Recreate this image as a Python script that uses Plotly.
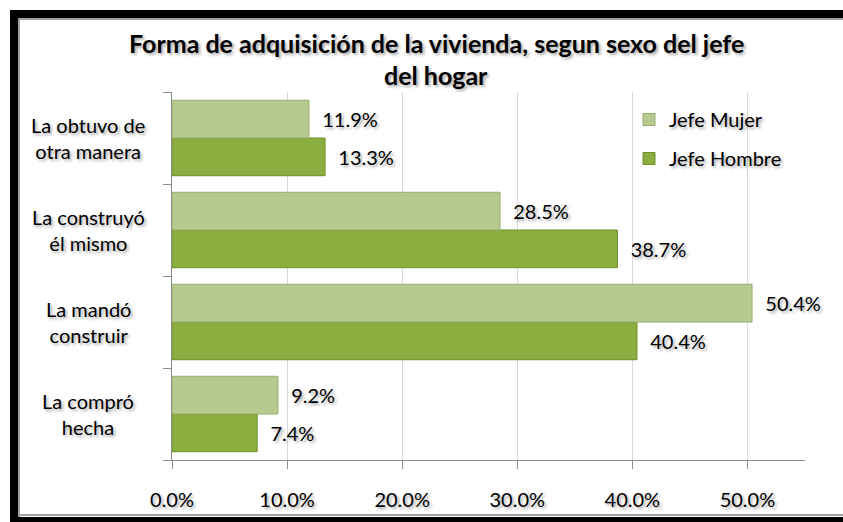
import plotly.graph_objects as go

categories = ["La compró hecha", "La mandó construir", "La construyó él mismo", "La obtuvo de otra manera"]
cat_labels = ["La compró<br>hecha", "La mandó<br>construir", "La construyó<br>él mismo", "La obtuvo de<br>otra manera"]
jefe_mujer = [0.092, 0.504, 0.285, 0.119]
jefe_hombre = [0.074, 0.404, 0.387, 0.133]
x_ticks = [0.0, 0.1, 0.2, 0.3, 0.4, 0.5]
title_lines = ["Forma de adquisición de la vivienda, segun sexo del jefe", "del hogar"]

W, H = 843, 522
# plot area in reference pixel coords
PX0, PX1, PY0, PY1 = 172, 805, 92, 460
L, R, T, B = PX0, W - PX1, PY0, H - PY1
PW, PH = PX1 - PX0, PY1 - PY0

def px(x):
    return (x - PX0) / PW

def py(y):
    return (PY1 - y) / PH

FONT = "Lato"
SHADOW = "2px 2px 3px rgba(0,0,0,0.35)"

fig = go.Figure()
fig.add_trace(go.Bar(
    y=categories, x=jefe_hombre, orientation="h", name="Jefe Hombre",
    legendgroup="h", legendrank=2,
    marker=dict(color="#8aae3f", line=dict(color="#6e8f2c", width=1)),
    texttemplate="\u00a0\u00a0%{x:.1%}", textposition="outside", cliponaxis=False,
    textfont=dict(family=FONT, size=20, color="#000", shadow=SHADOW),
))
fig.add_trace(go.Bar(
    y=categories, x=jefe_mujer, orientation="h", name="Jefe Mujer",
    legendgroup="m", legendrank=1,
    marker=dict(color="#b6ca8f", line=dict(color="#97ad6c", width=1)),
    texttemplate="\u00a0\u00a0%{x:.1%}", textposition="outside", cliponaxis=False,
    textfont=dict(family=FONT, size=20, color="#000", shadow=SHADOW),
))

def rect(x0, x1, y0, y1, color):
    return dict(type="rect", xref="paper", yref="paper", layer="below",
                x0=px(x0), x1=px(x1), y0=py(y1), y1=py(y0),
                fillcolor=color, line=dict(width=0))

shapes = [
    rect(10, 843, 10, 18, "#000"),   # top black strip
    rect(10, 18, 10, 522, "#000"),   # left black strip
    rect(10, 843, 517, 522, "#000"),  # bottom black strip
    rect(18, 843, 18, 20, "#a0a0a0"),  # inner gray top
    rect(18, 20, 18, 517, "#a0a0a0"),  # inner gray left
    rect(18, 843, 514, 516, "#a0a0a0"),  # inner gray bottom
]

annotations = []
for c, lab in zip(categories, cat_labels):
    annotations.append(dict(
        x=px(88), xref="paper", y=c, yref="y", text=lab, showarrow=False,
        xanchor="center", yanchor="middle", align="center",
        font=dict(family=FONT, size=20, color="#000", shadow=SHADOW),
    ))
for txt, yy in zip(title_lines, [43, 75]):
    annotations.append(dict(
        x=px(436), xref="paper", y=py(yy), yref="paper", text="<b>" + txt + "</b>",
        showarrow=False, xanchor="center", yanchor="middle",
        font=dict(family=FONT, size=25, color="#000", shadow=SHADOW),
    ))

fig.update_layout(
    width=W, height=H,
    margin=dict(l=L, r=R, t=T, b=B, autoexpand=False),
    paper_bgcolor="#fff", plot_bgcolor="rgba(0,0,0,0)",
    barmode="group", bargap=0.18, bargroupgap=0.0,
    xaxis=dict(
        range=[0, 0.55], tickvals=x_ticks, tickformat=".1%",
        showgrid=True, gridcolor="#d9d9d9", gridwidth=1,
        showline=True, linecolor="#8c8c8c", linewidth=1,
        ticks="outside", ticklen=8, tickcolor="#8c8c8c",
        zeroline=False,
        tickfont=dict(family=FONT, size=20, color="#000", shadow=SHADOW),
        ticklabelstandoff=14,
    ),
    yaxis=dict(
        type="category", categoryorder="array", categoryarray=categories,
        showticklabels=False, showgrid=False,
        showline=True, linecolor="#8c8c8c", linewidth=1,
        ticks="outside", ticklen=8, tickcolor="#8c8c8c", tickson="boundaries",
    ),
    legend=dict(
        x=px(629), y=py(100), xanchor="left", yanchor="top",
        traceorder="grouped", tracegroupgap=10,
        bgcolor="rgba(0,0,0,0)",
        font=dict(family=FONT, size=20, color="#000", shadow=SHADOW),
    ),
    shapes=shapes,
    annotations=annotations,
)

fig.write_html(
    "out.html",
    config={"displayModeBar": False},
    post_script=(
        "document.documentElement.style.overflow='hidden';"
        "document.body.style.margin='0';document.body.style.overflow='hidden';"
    ),
)
